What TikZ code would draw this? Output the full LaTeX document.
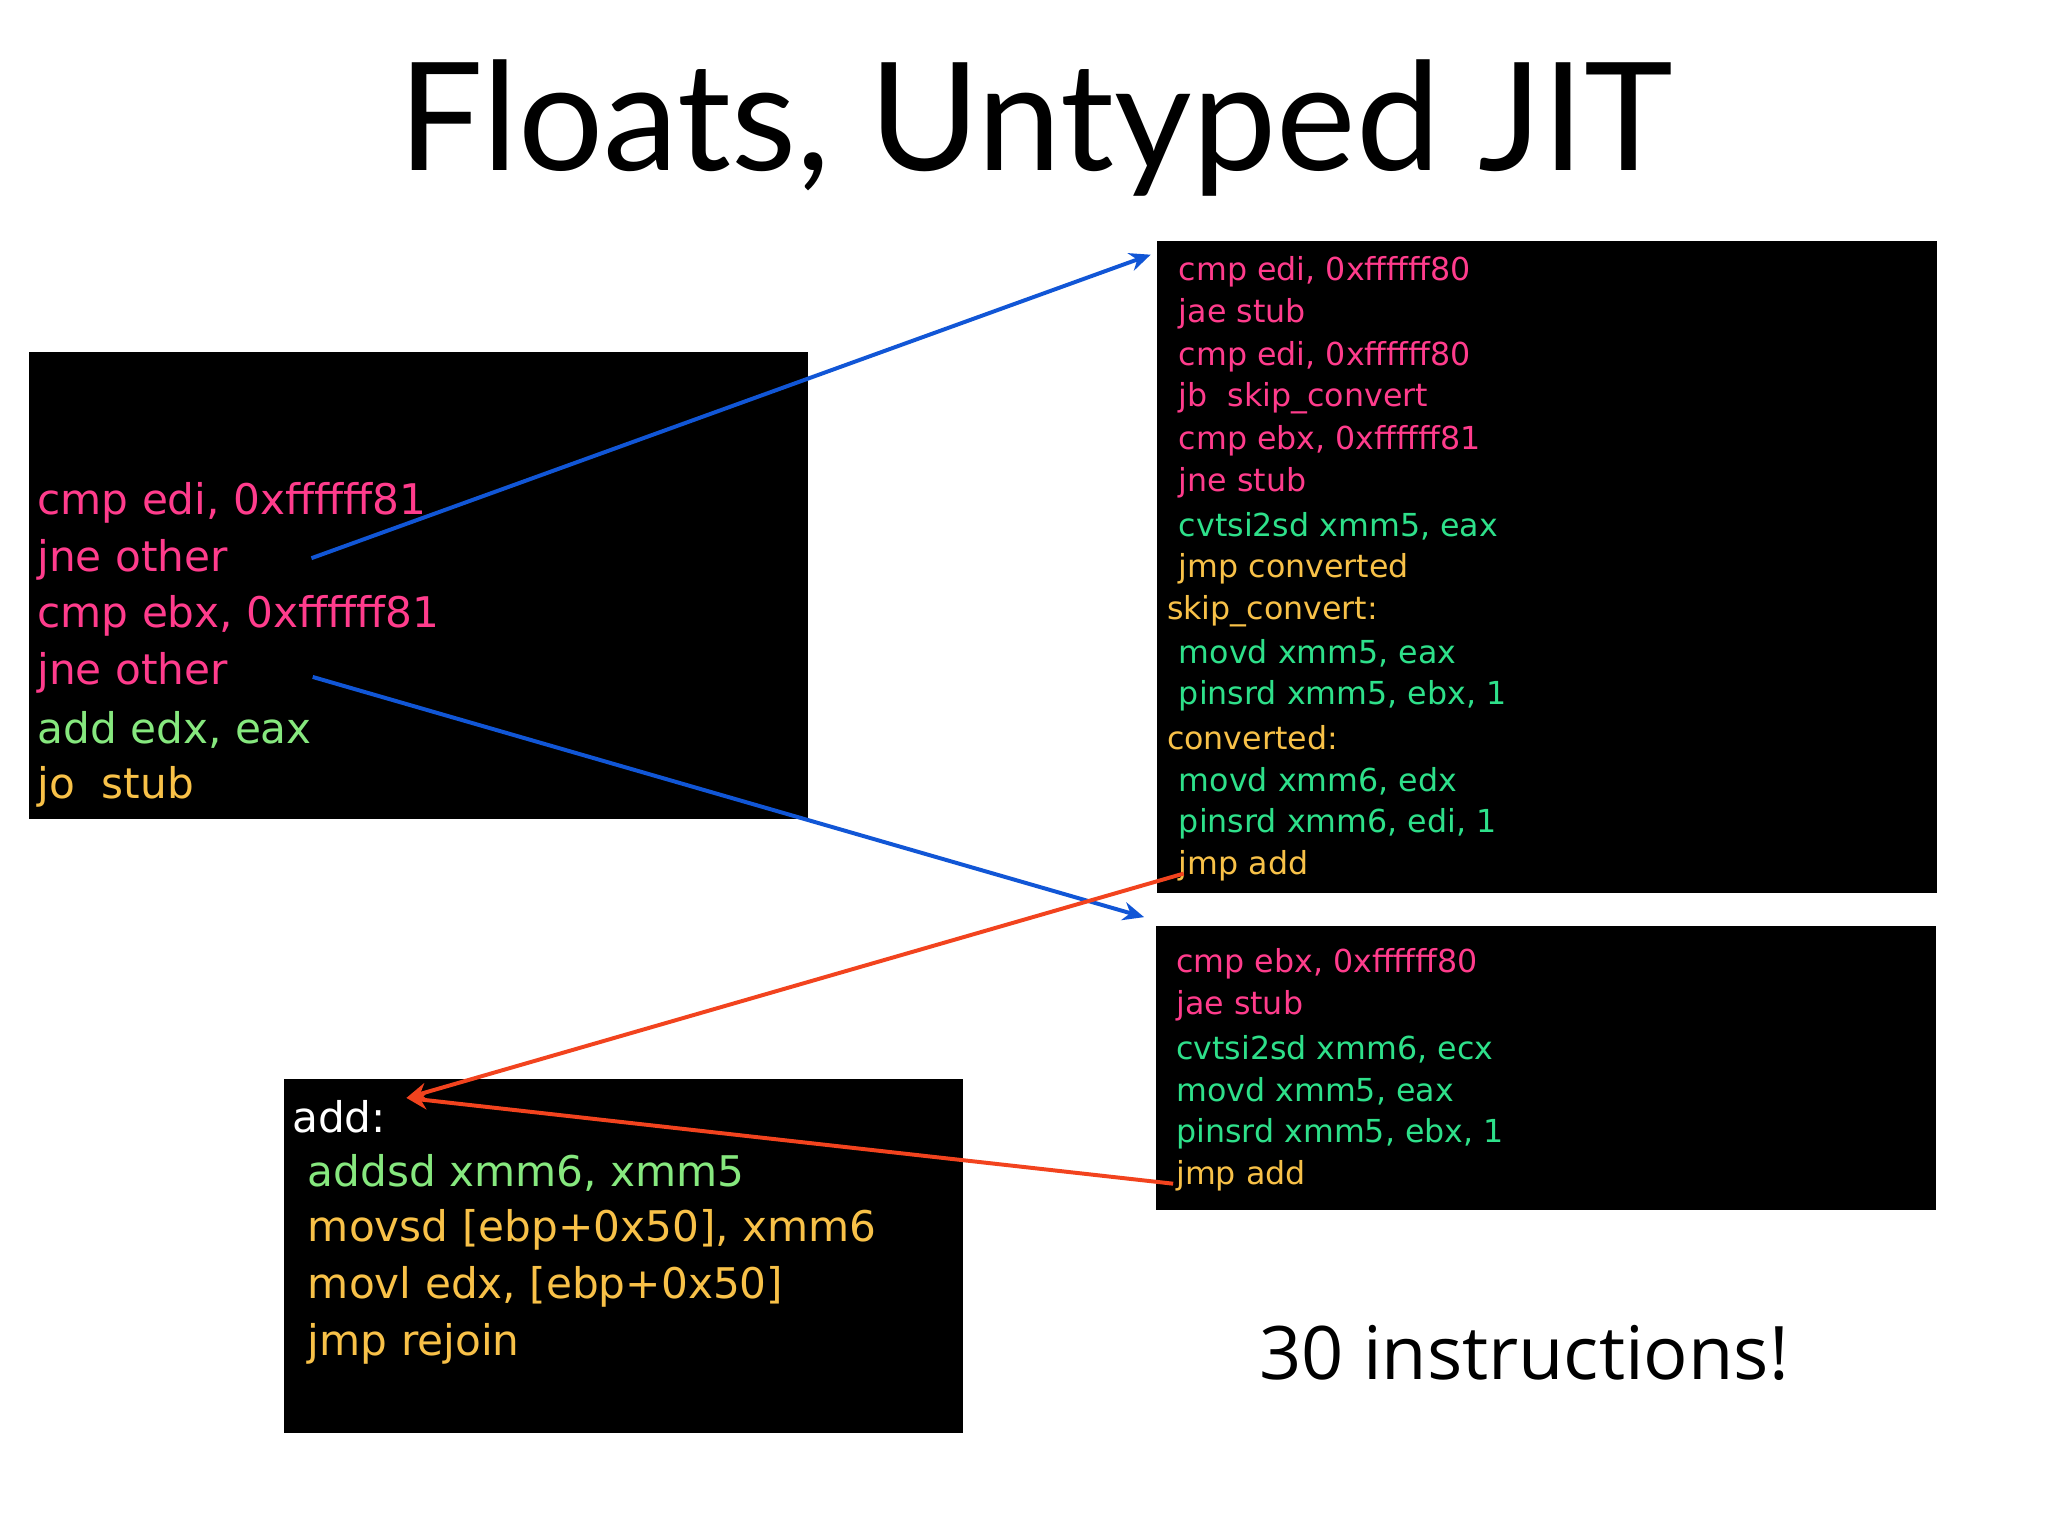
\documentclass[tikz,border=0pt]{standalone}
\usepackage{fontspec}
\setmainfont{Open Sans}
\newfontfamily\titlefont{Lato}
\newfontfamily\codefont{DejaVu Sans}
\usetikzlibrary{arrows.meta}
\definecolor{cpink}{HTML}{FF3C8C}
\definecolor{cgreen}{HTML}{2EE08A}
\definecolor{lgreen}{HTML}{86E87E}
\definecolor{cyel}{HTML}{F8C148}
\definecolor{cblue}{HTML}{1156D6}
\definecolor{cred}{HTML}{F2431E}
\tikzset{
 codebox/.style={fill=black,draw=none},
 rl/.style={anchor=west,inner sep=0pt,font=\codefont\fontsize{12}{14}\selectfont},
 ll/.style={anchor=west,inner sep=0pt,font=\codefont\fontsize{16}{18}\selectfont},
 blarrow/.style={draw=cblue,line width=1.5pt,-{Stealth[length=8pt,width=7pt]}},
 rdarrow/.style={draw=cred,line width=1.5pt,-{Stealth[length=8pt,width=7pt]}},
}
\begin{document}
\begin{tikzpicture}[x=0.5pt,y=-0.5pt]
\useasboundingbox[fill=white] (0,0) rectangle (1552,1164);
\node[font=\titlefont\fontsize{57}{64}\selectfont,inner sep=0pt] (title) at (785,97) {Floats, Untyped JIT};
\fill[codebox] (22,267) rectangle (612,621);
\fill[codebox] (877,183) rectangle (1468,677);
\fill[codebox] (876,702) rectangle (1467,917);
\fill[codebox] (215,818) rectangle (730,1086);
% left box
\node[ll,text=cpink] (l1) at (28,381) {cmp edi, 0xffffff81};
\node[ll,text=cpink] (l2) at (28,424) {jne other};
\node[ll,text=cpink] (l3) at (28,467) {cmp ebx, 0xffffff81};
\node[ll,text=cpink] (l4) at (28,510) {jne other};
\node[ll,text=lgreen] (l5) at (28,553) {add edx, eax};
\node[ll,text=cyel] (l6) at (28,596) {jo\ \ stub};
% right top
\node[rl,text=cpink] (r1) at (893,206) {cmp edi, 0xffffff80};
\node[rl,text=cpink] (r2) at (893,238) {jae stub};
\node[rl,text=cpink] (r3) at (893,270) {cmp edi, 0xffffff80};
\node[rl,text=cpink] (r4) at (893,302) {jb\ \ skip\_convert};
\node[rl,text=cpink] (r5) at (893,334) {cmp ebx, 0xffffff81};
\node[rl,text=cpink] (r6) at (893,366) {jne stub};
\node[rl,text=cgreen] (r7) at (893,399) {cvtsi2sd xmm5, eax};
\node[rl,text=cyel] (r8) at (893,431) {jmp converted};
\node[rl,text=cyel] (r9) at (884,463) {skip\_convert:};
\node[rl,text=cgreen] (r10) at (893,495) {movd xmm5, eax};
\node[rl,text=cgreen] (r11) at (893,527) {pinsrd xmm5, ebx, 1};
\node[rl,text=cyel] (r12) at (884,559) {converted:};
\node[rl,text=cgreen] (r13) at (893,592) {movd xmm6, edx};
\node[rl,text=cgreen] (r14) at (893,624) {pinsrd xmm6, edi, 1};
\node[rl,text=cyel] (r15) at (893,656) {jmp add};
% right bottom
\node[rl,text=cpink] (b1) at (891,730) {cmp ebx, 0xffffff80};
\node[rl,text=cpink] (b2) at (891,762) {jae stub};
\node[rl,text=cgreen] (b3) at (891,795) {cvtsi2sd xmm6, ecx};
\node[rl,text=cgreen] (b4) at (891,827) {movd xmm5, eax};
\node[rl,text=cgreen] (b5) at (891,859) {pinsrd xmm5, ebx, 1};
\node[rl,text=cyel] (b6) at (891,891) {jmp add};
% add box
\node[ll,text=white] (a0) at (221,846) {add:};
\node[ll,text=lgreen] (a1) at (233,889) {addsd xmm6, xmm5};
\node[ll,text=cyel] (a2) at (233,932) {movsd [ebp+0x50], xmm6};
\node[ll,text=cyel] (a3) at (233,975) {movl edx, [ebp+0x50]};
\node[ll,text=cyel] (a4) at (233,1018) {jmp rejoin};
\node[font=\fontsize{28}{30}\selectfont,inner sep=0pt] (cnt) at (1155,1025) {30 instructions!};
% connectors
\coordinate (s1) at (236,423); \coordinate (t1) at (872,193);
\coordinate (s2) at (237,513); \coordinate (t2) at (867,695);
\coordinate (s3) at (897,662); \coordinate (s4) at (889,897);
\coordinate (t3) at (308,832);
\draw[blarrow] (s1) -- (t1);
\draw[blarrow] (s2) -- (t2);
\draw[rdarrow] (s3) -- (t3);
\draw[rdarrow] (s4) -- (t3);
\end{tikzpicture}
\end{document}
